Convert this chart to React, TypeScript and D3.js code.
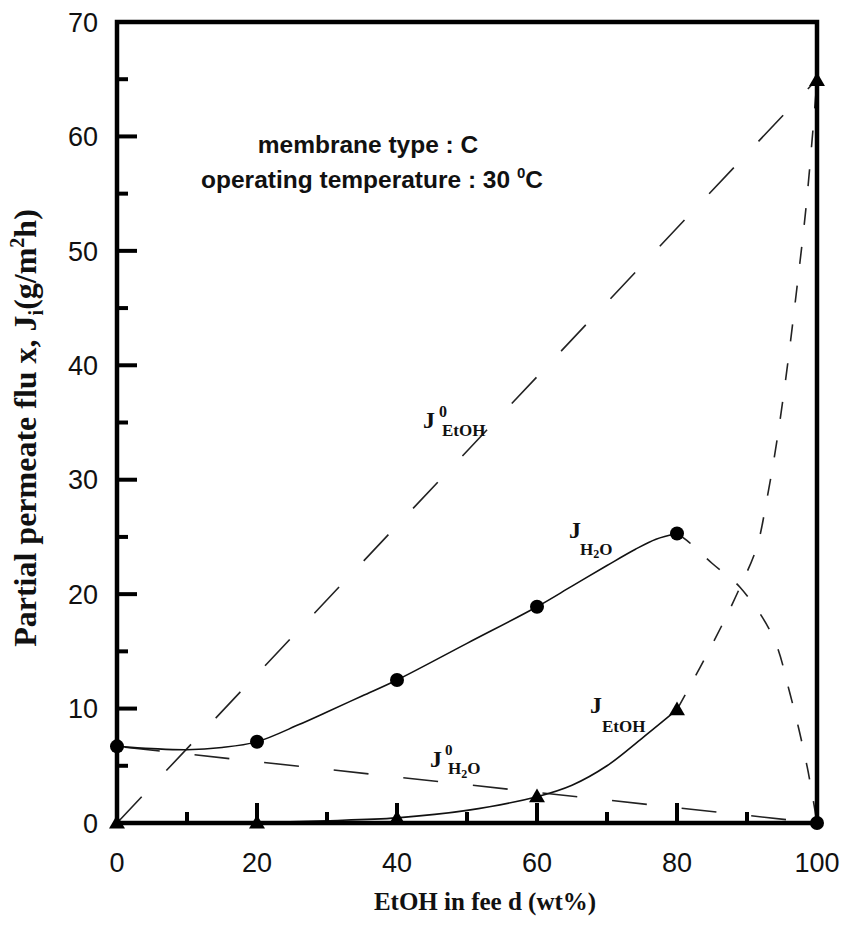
import React from "react";
import * as d3 from "d3";

// measured points
const feedX = [0, 20, 40, 60, 80, 100];
const fluxH2O = [6.7, 7.1, 12.5, 18.9, 25.3, 0];
const fluxEtOH = [0, 0, 0.4, 2.3, 9.9, 64.9];

// fitted (solid) curves
const fitH2OX = [0, 5, 10, 15, 20, 26, 30, 35, 40, 50, 60, 65, 70, 74, 77, 80];
const fitH2OY = [6.7, 6.5, 6.4, 6.6, 7.1, 8.6, 9.7, 11.1, 12.5, 15.7, 18.9, 20.7, 22.5, 23.9, 24.8, 25.3];
const fitEtOHX = [0, 20, 30, 40, 50, 60, 65, 70, 75, 80];
const fitEtOHY = [0, 0.05, 0.2, 0.45, 1.1, 2.3, 3.3, 5.0, 7.4, 9.9];

// dashed extrapolations 80 -> 100 wt%
const h2oDropX = [80, 81.4, 85, 89, 93.7, 96.1, 98.6, 100];
const h2oDropY = [25.3, 24.7, 22.7, 20.6, 16.3, 11.4, 4.9, 0];
const etohRiseX = [80, 83.3, 86.6, 89, 91.4, 92.9, 94.3, 95.7, 97.1, 98.4, 99.3, 100];
const etohRiseY = [9.9, 13.6, 17.5, 20.6, 24.1, 28.5, 33.5, 39.6, 46.6, 53.6, 59.7, 64.9];

// ideal (pure-component) flux lines
const idealX = [0, 100];
const idealEtOH = [0, 65];
const idealH2O = [6.7, 0];

const xMajor = [0, 20, 40, 60, 80, 100];
const xMinor = [10, 30, 50, 70, 90];
const yMajor = [0, 10, 20, 30, 40, 50, 60, 70];
const yMinor = [5, 15, 25, 35, 45, 55, 65];

const L = 117, R = 817, T = 22, B = 823;

export default function App() {
  const x = d3.scaleLinear().domain([0, 100]).range([L, R]);
  const y = d3.scaleLinear().domain([0, 70]).range([B, T]);
  const line = d3
    .line<[number, number]>()
    .x((d) => x(d[0]))
    .y((d) => y(d[1]))
    .curve(d3.curveCatmullRom.alpha(0.5));
  const straight = d3
    .line<[number, number]>()
    .x((d) => x(d[0]))
    .y((d) => y(d[1]));

  const zip = (a: number[], b: number[]) => a.map((v, i) => [v, b[i]] as [number, number]);

  const serif = "'Liberation Serif', 'DejaVu Serif', serif";
  const sans = "'Liberation Sans', Arial, sans-serif";
  const tri = d3.symbol().type(d3.symbolTriangle).size(110)();
  const ink = "#111";

  return (
    <svg width={842} height={926} style={{ position: "absolute", left: 0, top: 0, background: "#fff" }}>
      {/* ideal lines */}
      <path d={straight(zip(idealX, idealEtOH)) || ""} fill="none" stroke="#222" strokeWidth={1.6} strokeDasharray="36 36" />
      <path d={straight(zip(idealX, idealH2O)) || ""} fill="none" stroke="#222" strokeWidth={1.6} strokeDasharray="35 35" strokeDashoffset={-8} />
      {/* dashed extrapolation */}
      <path d={line(zip(h2oDropX, h2oDropY)) || ""} fill="none" stroke="#222" strokeWidth={1.6} strokeDasharray="17 22" />
      <path d={line(zip(etohRiseX, etohRiseY)) || ""} fill="none" stroke="#222" strokeWidth={1.6} strokeDasharray="17 22" />
      {/* solid fits */}
      <path d={line(zip(fitH2OX, fitH2OY)) || ""} fill="none" stroke={ink} strokeWidth={1.6} />
      <path d={line(zip(fitEtOHX, fitEtOHY)) || ""} fill="none" stroke={ink} strokeWidth={1.6} />

      {/* frame */}
      <rect x={L} y={T} width={R - L} height={B - T} fill="none" stroke="#000" strokeWidth={4.5} />
      {yMajor.filter((v) => v > 0 && v < 70).map((v) => (
        <line key={"ym" + v} x1={L} x2={L + 20} y1={y(v)} y2={y(v)} stroke="#000" strokeWidth={4} />
      ))}
      {yMinor.map((v) => (
        <line key={"yn" + v} x1={L} x2={L + 11} y1={y(v)} y2={y(v)} stroke="#000" strokeWidth={4} />
      ))}
      {xMajor.filter((v) => v > 0 && v < 100).map((v) => (
        <line key={"xm" + v} x1={x(v)} x2={x(v)} y1={B} y2={B - 20} stroke="#000" strokeWidth={4} />
      ))}
      {xMinor.map((v) => (
        <line key={"xn" + v} x1={x(v)} x2={x(v)} y1={B} y2={B - 11} stroke="#000" strokeWidth={4} />
      ))}
      {yMajor.map((v) => (
        <text key={"yl" + v} x={98} y={y(v)} dy="0.36em" textAnchor="end" fontFamily={sans} fontSize={27} fill={ink}>
          {v}
        </text>
      ))}
      {xMajor.map((v) => (
        <text key={"xl" + v} x={x(v)} y={872} textAnchor="middle" fontFamily={sans} fontSize={27} fill={ink}>
          {v}
        </text>
      ))}

      {/* markers */}
      {feedX.map((v, i) => (
        <circle key={"c" + v} cx={x(v)} cy={y(fluxH2O[i])} r={7} fill="#000" />
      ))}
      {feedX.map((v, i) => (
        <path key={"t" + v} d={tri || ""} transform={`translate(${x(v)},${y(fluxEtOH[i]) + 1})`} fill="#000" />
      ))}

      {/* annotation */}
      <text x={368} y={153} textAnchor="middle" fontFamily={sans} fontWeight="bold" fontSize={24.5} fill={ink}>
        membrane type : C
      </text>
      <text x={372} y={188} textAnchor="middle" fontFamily={sans} fontWeight="bold" fontSize={24.5} fill={ink}>
        operating temperature : 30 <tspan fontSize={15} dy={-10}>0</tspan>
        <tspan dy={10}>C</tspan>
      </text>

      {/* series labels */}
      <text x={569} y={538} fontFamily={serif} fontWeight="bold" fontSize={24} fill={ink}>J</text>
      <text x={580} y={555} fontFamily={serif} fontWeight="bold" fontSize={17} fill={ink}>
        H<tspan fontSize={12} dy={3}>2</tspan>
        <tspan dy={-3}>O</tspan>
      </text>

      <text x={590} y={713} fontFamily={serif} fontWeight="bold" fontSize={24} fill={ink}>J</text>
      <text x={602} y={732} fontFamily={serif} fontWeight="bold" fontSize={17} fill={ink}>EtOH</text>

      <text x={423} y={428} fontFamily={serif} fontWeight="bold" fontSize={24} fill={ink}>J</text>
      <text x={439} y={417} fontFamily={serif} fontWeight="bold" fontSize={16} fill={ink}>0</text>
      <text x={442} y={436} fontFamily={serif} fontWeight="bold" fontSize={17} fill={ink}>EtOH</text>

      <text x={430} y={767} fontFamily={serif} fontWeight="bold" fontSize={24} fill={ink}>J</text>
      <text x={445} y={755} fontFamily={serif} fontWeight="bold" fontSize={15} fill={ink}>0</text>
      <text x={448} y={774} fontFamily={serif} fontWeight="bold" fontSize={17} fill={ink}>
        H<tspan fontSize={12} dy={4}>2</tspan>
        <tspan dy={-4}>O</tspan>
      </text>

      {/* axis titles */}
      <text x={485} y={910} textAnchor="middle" fontFamily={serif} fontWeight="bold" fontSize={25} fill={ink}>
        EtOH in fee d (wt%)
      </text>
      <text transform="translate(36,428) rotate(-90)" textAnchor="middle" fontFamily={serif} fontWeight="bold" fontSize={32} fill={ink}>
        Partial permeate flu x, J<tspan fontSize={20} dy={7}>i</tspan>
        <tspan dy={-7}>(g/m</tspan>
        <tspan fontSize={20} dy={-12}>2</tspan>
        <tspan dy={12}>h)</tspan>
      </text>
    </svg>
  );
}
